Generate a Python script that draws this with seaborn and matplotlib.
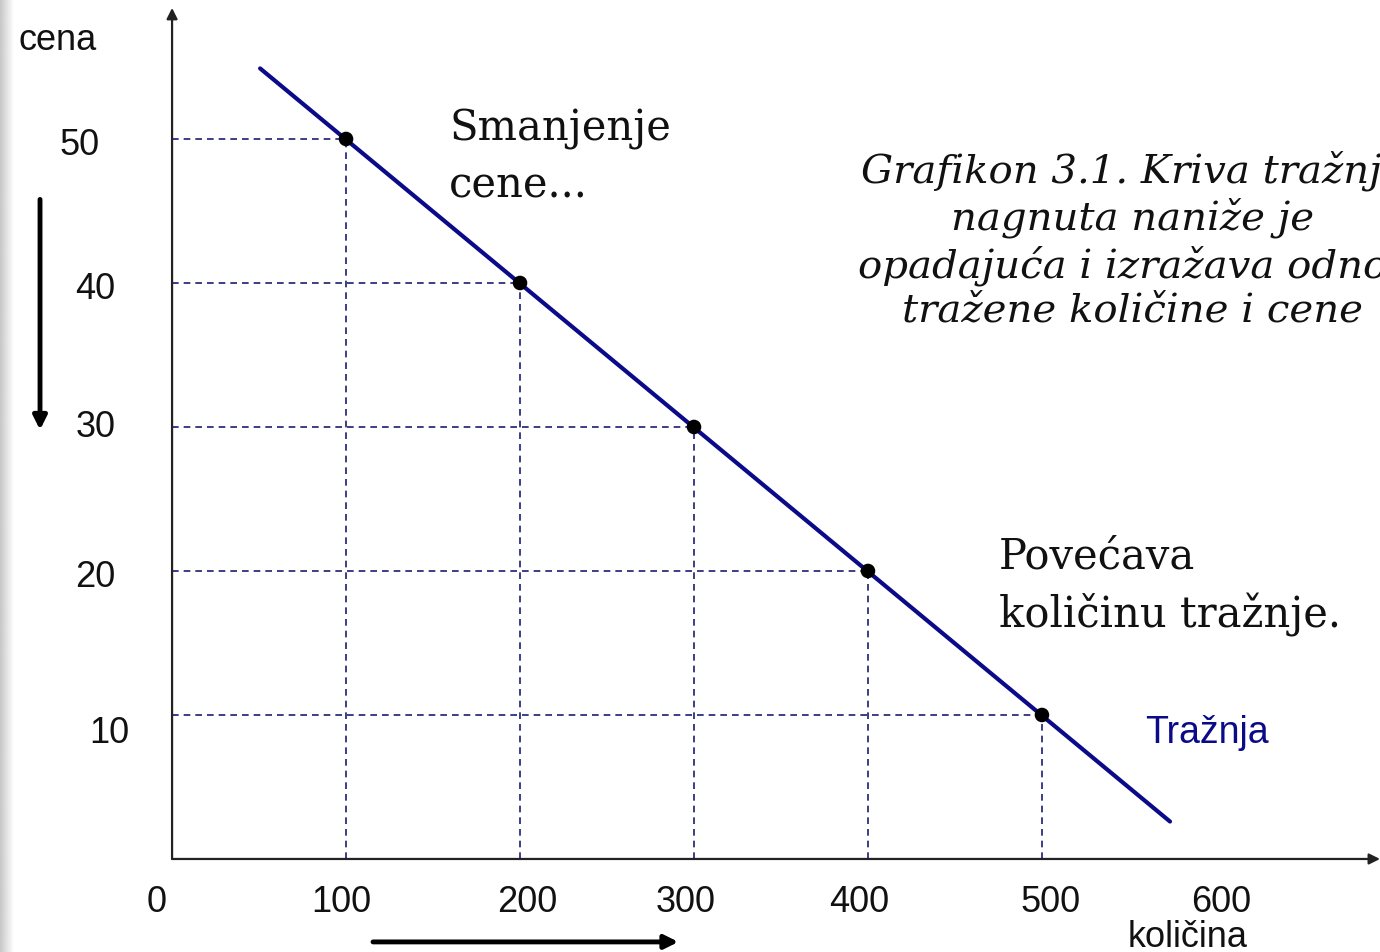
import matplotlib
matplotlib.use('agg')
import matplotlib.pyplot as plt
import seaborn as sns
import numpy as np
import pandas as pd

# Demand schedule (kolicina -> cena)
kolicina = [100, 200, 300, 400, 500]
cena = [50, 40, 30, 20, 10]

# Ends of the drawn demand curve
kriva_x = [50.6, 573.6]
kriva_y = [54.9, 2.6]

x_ticks = [0, 100, 200, 300, 400, 500, 600]
y_ticks = [50, 40, 30, 20, 10]

# small layout nudges of the hand-placed tick labels (data units)
x_nudge = [-8.6, -3, 4, -5, -5, 5, 3]
y_label_x = [-53, -44, -44, -44, -36]
y_nudge = [-0.35, -0.35, 0, -0.35, -1.2]

caption = ("Grafikon 3.1. Kriva tražnje\n"
           "nagnuta naniže je\n"
           "opadajuća i izražava odnos\n"
           "tražene količine i cene")

sns.set_style('white')
plt.rcParams['font.family'] = ['Liberation Sans', 'DejaVu Sans']

navy = '#0b0b8a'
dash_col = '#1c1c6e'
sans = ['Liberation Sans', 'DejaVu Sans']
serif = ['DejaVu Serif']

fig = plt.figure(figsize=(13.8, 9.53), dpi=100)
ax = fig.add_axes([0, 0, 1, 1])
ax.set_xlim(-98.9, 694.3)
ax.set_ylim(-6.46, 59.72)
ax.axis('off')

# gray strip on the left border
strip = fig.add_axes([0, 0, 14 / 1380, 1])
strip.imshow(np.linspace(0.78, 1.0, 50)[None, :], cmap='gray', vmin=0, vmax=1,
             aspect='auto', extent=[0, 1, 0, 1])
strip.axis('off')

# dashed guide lines
ax.hlines(cena, 0, kolicina, colors=dash_col, linestyles=(0, (4, 3)), lw=1.2, zorder=1)
ax.vlines(kolicina, 0, cena, colors=dash_col, linestyles=(0, (4, 3)), lw=1.2, zorder=1)

# demand curve and points
sns.lineplot(x=kriva_x, y=kriva_y, ax=ax, color=navy, lw=3, zorder=2)
df = pd.DataFrame({'kolicina': kolicina, 'cena': cena})
sns.scatterplot(data=df, x='kolicina', y='cena', ax=ax, color='black', s=110,
                edgecolor='none', zorder=3)

# axes with arrows
ax.annotate('', xy=(694.3, 0), xytext=(0, 0),
            arrowprops=dict(arrowstyle='-|>', color='#222222', lw=1.6,
                            mutation_scale=16, shrinkA=0, shrinkB=0))
ax.annotate('', xy=(0, 59.1), xytext=(0, 0),
            arrowprops=dict(arrowstyle='-|>', color='#222222', lw=1.6,
                            mutation_scale=16, shrinkA=0, shrinkB=0))

# direction arrows
ax.annotate('', xy=(-75.9, 29.8), xytext=(-75.9, 45.8),
            arrowprops=dict(arrowstyle='-|>', color='black', lw=3.5,
                            mutation_scale=20, shrinkA=0, shrinkB=0))
ax.annotate('', xy=(291, -5.76), xytext=(115.5, -5.76),
            arrowprops=dict(arrowstyle='-|>', color='black', lw=3.5,
                            mutation_scale=20, shrinkA=0, shrinkB=0))

# tick labels
for v, dx in zip(x_ticks, x_nudge):
    ax.text(v + dx, -2.92, str(v), ha='center', va='center', fontsize=26,
            family=sans, color='#111111')
for v, lx, dy in zip(y_ticks, y_label_x, y_nudge):
    ax.text(lx, v + dy, str(v), ha='center', va='center', fontsize=26,
            family=sans, color='#111111')

ax.text(-65.5, 56.9, 'cena', ha='center', va='center', fontsize=26,
        family=sans, color='#111111')
ax.text(583.9, -5.4, 'količina', ha='center', va='center', fontsize=26,
        family=sans, color='#111111')

ax.text(159.2, 48.8, 'Smanjenje\ncene...', ha='left', va='center',
        fontsize=30, family=serif, color='#111111', linespacing=1.45)
ax.text(475.3, 19.0, 'Povećava\nkoličinu tražnje.', ha='left', va='center',
        fontsize=30, family=serif, color='#111111', linespacing=1.45)
ax.text(552.3, 43.06, caption, ha='center', va='center', fontsize=29,
        family=serif, style='italic', color='#111111', linespacing=1.22)
ax.text(559.2, 8.82, 'Tražnja', ha='left', va='center', fontsize=27,
        family=sans, color=navy)

fig.savefig('out.png', dpi=100)
plt.close(fig)
